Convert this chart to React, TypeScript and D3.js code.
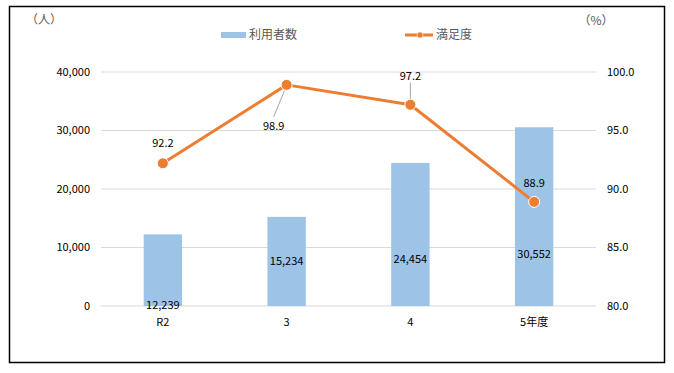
import { scaleBand, scaleLinear, line } from 'd3';

const categories = ['R2', '3', '4', '5年度'];
const users = [12239, 15234, 24454, 30552];
const satisfaction = [92.2, 98.9, 97.2, 88.9];
const leftTicks = [0, 10000, 20000, 30000, 40000];
const rightTicks = [80, 85, 90, 95, 100];

// label nudges in px, placed by hand like the original
const barLabelDy = [35, 0, 24.5, 38];
const lineLabelOffset = [
  [0, -20],
  [-13, 41],
  [0, -29],
  [0, -19],
];

const W = 674;
const H = 373;
const m = { left: 101, right: 78, top: 72, bottom: 67 };
const font = '"Noto Sans CJK JP", "Noto Sans", sans-serif';
const blue = '#9DC3E6';
const orange = '#ED7D31';

export default function App() {
  const x = scaleBand<string>()
    .domain(categories)
    .range([m.left, W - m.right])
    .paddingInner(0.69)
    .paddingOuter(0.345);

  const yL = scaleLinear().domain([0, 40000]).range([H - m.bottom, m.top]);
  const yR = scaleLinear().domain([80, 100]).range([H - m.bottom, m.top]);

  const cx = (c: string) => (x(c) ?? 0) + x.bandwidth() / 2;
  const pts: [number, number][] = categories.map((c, i) => [cx(c), yR(satisfaction[i])]);
  const path = line()(pts) ?? '';

  const fmt = (v: number) => v.toLocaleString('en-US');

  return (
    <>
      <style>{`body{margin:0}`}</style>
      <svg width={W} height={H} style={{ display: 'block', fontFamily: font }}>
        <rect x={0} y={0} width={W} height={H} fill="#fff" />
        <rect x={9.5} y={6.5} width={655} height={356} fill="none" stroke="#000" strokeWidth={1.5} />

        {/* grid */}
        {leftTicks.map((t) => (
          <line key={t} x1={m.left} x2={W - m.right} y1={yL(t)} y2={yL(t)} stroke="#d9d9d9" strokeWidth={1} />
        ))}

        {/* left axis labels */}
        {leftTicks.map((t) => (
          <text key={t} x={90} y={yL(t)} dy="0.35em" textAnchor="end" fontSize={11} fill="#000">
            {fmt(t)}
          </text>
        ))}
        {/* right axis labels */}
        {rightTicks.map((t) => (
          <text key={t} x={607} y={yR(t)} dy="0.35em" textAnchor="start" fontSize={11} fill="#000">
            {t.toFixed(1)}
          </text>
        ))}

        <text x={44} y={20} dy="0.35em" textAnchor="middle" fontSize={12} fill="#595959">（人）</text>
        <text x={596} y={21} dy="0.35em" textAnchor="middle" fontSize={12} fill="#595959">（%）</text>

        {/* bars */}
        {categories.map((c, i) => (
          <rect key={c} x={x(c)} y={yL(users[i])} width={x.bandwidth()} height={yL(0) - yL(users[i])} fill={blue} />
        ))}

        {/* x labels */}
        {categories.map((c) => (
          <text key={c} x={cx(c)} y={322} dy="0.35em" textAnchor="middle" fontSize={11} fill="#000">
            {c}
          </text>
        ))}

        {/* bar value labels */}
        {categories.map((c, i) => (
          <text
            key={c}
            x={cx(c)}
            y={(yL(users[i]) + yL(0)) / 2 + barLabelDy[i]}
            dy="0.35em"
            textAnchor="middle"
            fontSize={11}
            fill="#000"
          >
            {fmt(users[i])}
          </text>
        ))}

        {/* leader lines */}
        <line x1={pts[1][0] - 13} y1={pts[1][1] + 32} x2={pts[1][0] - 1} y2={pts[1][1] + 3} stroke="#a6a6a6" strokeWidth={1} />
        <line x1={pts[2][0]} y1={pts[2][1] - 22} x2={pts[2][0]} y2={pts[2][1] - 2} stroke="#a6a6a6" strokeWidth={1} />

        {/* line series */}
        <path d={path} fill="none" stroke={orange} strokeWidth={3} strokeLinejoin="round" />
        {pts.map((p, i) => (
          <circle key={i} cx={p[0]} cy={p[1]} r={5.5} fill={orange} stroke="#fff" strokeWidth={1} />
        ))}
        {pts.map((p, i) => (
          <text
            key={i}
            x={p[0] + lineLabelOffset[i][0]}
            y={p[1] + lineLabelOffset[i][1]}
            dy="0.35em"
            textAnchor="middle"
            fontSize={11}
            fill="#000"
          >
            {satisfaction[i].toFixed(1)}
          </text>
        ))}

        {/* legend */}
        <rect x={221} y={32} width={25} height={6} fill={blue} />
        <text x={249} y={35} dy="0.35em" fontSize={12} fill="#595959">利用者数</text>
        <line x1={405} x2={433} y1={35} y2={35} stroke={orange} strokeWidth={3} />
        <circle cx={420} cy={35} r={3} fill={orange} stroke="#fff" strokeWidth={0.5} />
        <text x={436} y={35} dy="0.35em" fontSize={12} fill="#595959">満足度</text>
      </svg>
    </>
  );
}
